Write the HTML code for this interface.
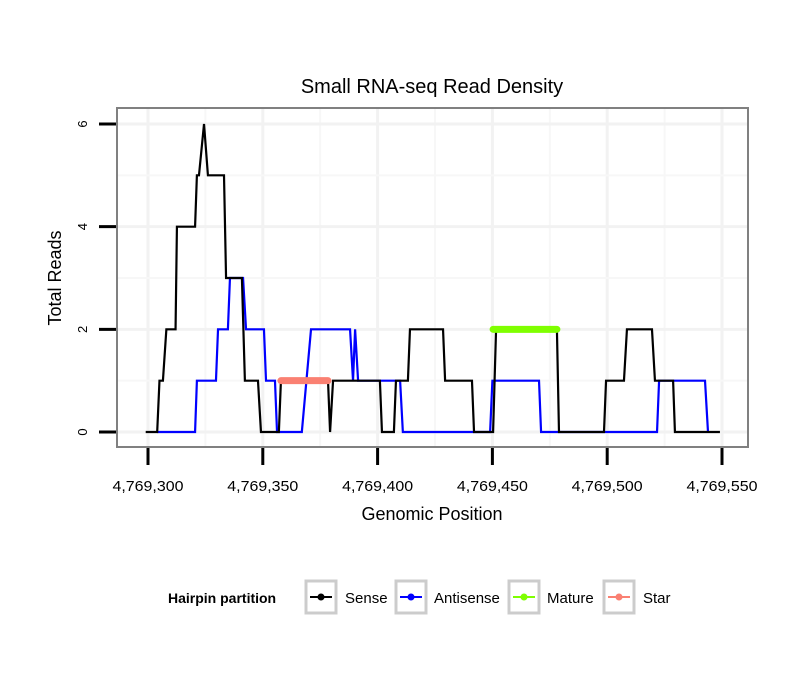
<!DOCTYPE html>
<html><head><meta charset="utf-8"><style>
body{margin:0;background:#fff}
svg{display:block;font-family:"Liberation Sans",sans-serif}
</style></head><body>
<svg id="c" width="810" height="690">
<rect width="810" height="690" fill="#fff"/>
<text x="432" y="93" font-size="20" text-anchor="middle">Small RNA-seq Read Density</text>
<g id="grid"></g>
<rect x="117" y="108" width="631" height="339" fill="none" stroke="#808080" stroke-width="2"/>
<g id="series"></g>
<g id="axes"></g>
<text x="432" y="520" font-size="18" text-anchor="middle">Genomic Position</text>
<text transform="translate(61,278) rotate(-90)" font-size="18" text-anchor="middle">Total Reads</text>
<g>
<text x="168" y="603" font-size="14" font-weight="bold">Hairpin partition</text>
<g><rect x="306" y="581" width="30" height="32" fill="#fff" stroke="#ccc" stroke-width="3"/><line x1="310" x2="332" y1="597" y2="597" stroke="#000" stroke-width="2"/><circle cx="321" cy="597" r="3.5" fill="#000"/><text x="345" y="603" font-size="15">Sense</text></g>
<g><rect x="396" y="581" width="30" height="32" fill="#fff" stroke="#ccc" stroke-width="3"/><line x1="400" x2="422" y1="597" y2="597" stroke="#0000ff" stroke-width="2"/><circle cx="411" cy="597" r="3.5" fill="#0000ff"/><text x="434" y="603" font-size="15">Antisense</text></g>
<g><rect x="509" y="581" width="30" height="32" fill="#fff" stroke="#ccc" stroke-width="3"/><line x1="513" x2="535" y1="597" y2="597" stroke="#7fff00" stroke-width="2"/><circle cx="524" cy="597" r="3.5" fill="#7fff00"/><text x="547" y="603" font-size="15">Mature</text></g>
<g><rect x="604" y="581" width="30" height="32" fill="#fff" stroke="#ccc" stroke-width="3"/><line x1="608" x2="630" y1="597" y2="597" stroke="#fa8072" stroke-width="2"/><circle cx="619" cy="597" r="3.5" fill="#fa8072"/><text x="643" y="603" font-size="15">Star</text></g>
</g>
</svg>
<script>
const xTicks=[4769300,4769350,4769400,4769450,4769500,4769550];
const xTickLabels=["4,769,300","4,769,350","4,769,400","4,769,450","4,769,500","4,769,550"];
const yTicks=[0,2,4,6];
const senseX=[-1,4,5,6.5,8,12,12.6,20.5,21.3,22.2,24.4,26.1,33.1,34,40.9,42.2,47.9,49.2,57,57.9,78.4,79.3,80.6,101,101.9,107.1,108,113.2,114.1,128.5,129.4,141.1,142,150.3,151.6,178.1,179,198.6,199.5,207.3,208.6,219.5,220.8,228.7,229.5,249.1];
const senseY=[0,0,1,1,2,2,4,4,5,5,6,5,5,3,3,1,1,0,0,1,1,0,1,1,0,0,1,1,2,2,1,1,0,0,2,2,0,0,1,1,2,2,1,1,0,0];
const antiX=[4,20.5,21.3,29.6,30.5,34.8,35.7,41.4,42.7,50.5,51.4,55.3,56.2,67,71,88,89.3,90.2,91.5,109.8,111,149,150,170.3,171.2,221.7,222.6,242.6,243.9];
const antiY=[0,0,1,1,2,2,3,3,2,2,1,1,0,0,2,2,1,2,1,1,0,0,1,1,0,0,1,1,0];
const matureX=[150.3,178.1], matureY=2;
const starX=[57.9,78.4], starY=1;
const base=4769300;
const xs=v=>148+(v-base)*574/250;
const xo=o=>xs(base+o);
const ys=v=>432-v*(432-124)/6;
const NS="http://www.w3.org/2000/svg";
function mk(p,t,a){const e=document.createElementNS(NS,t);for(const k in a)e.setAttribute(k,a[k]);p.appendChild(e);return e;}
const grid=document.getElementById('grid'),ax=document.getElementById('axes'),ser=document.getElementById('series');
[4769325,4769375,4769425,4769475,4769525].forEach(v=>{const l=mk(grid,'line',{x1:xs(v),x2:xs(v),y1:109,y2:446,stroke:'#f7f7f7','stroke-width':2});

});
xTicks.forEach(v=>{const l=mk(grid,'line',{x1:xs(v),x2:xs(v),y1:109,y2:446,stroke:'#f2f2f2','stroke-width':3});

});
[1,3,5].forEach(v=>{const l=mk(grid,'line',{x1:118,x2:747,y1:ys(v),y2:ys(v),stroke:'#f7f7f7','stroke-width':2});

});
yTicks.forEach(v=>{const l=mk(grid,'line',{x1:118,x2:747,y1:ys(v),y2:ys(v),stroke:'#f2f2f2','stroke-width':3});

});
xTicks.forEach((v,i)=>{const t=mk(ax,'line',{x1:xs(v),x2:xs(v),y1:448,y2:465,stroke:'#000','stroke-width':3});


const tx=mk(ax,'text',{x:xs(v)-35.5,y:491,'font-size':15,textLength:71,lengthAdjust:'spacingAndGlyphs'});tx.textContent=xTickLabels[i];

});
yTicks.forEach(v=>{const t=mk(ax,'line',{x1:99,x2:116,y1:ys(v),y2:ys(v),stroke:'#000','stroke-width':3});


const tx=mk(ax,'text',{transform:`translate(87,${ys(v)}) rotate(-90)`,'font-size':13,'text-anchor':'middle'});tx.textContent=v;

});
const pa=mk(ser,'polyline',{points:antiX.map((x,i)=>xo(x)+','+ys(antiY[i])).join(' '),fill:'none',stroke:'#0000ff','stroke-width':2.2});


const ps=mk(ser,'polyline',{points:senseX.map((x,i)=>xo(x)+','+ys(senseY[i])).join(' '),fill:'none',stroke:'#000','stroke-width':2.2});


const pm=mk(ser,'line',{x1:xo(matureX[0]),x2:xo(matureX[1]),y1:ys(matureY),y2:ys(matureY),stroke:'#7fff00','stroke-width':7,'stroke-linecap':'round'});


const pst=mk(ser,'line',{x1:xo(starX[0]),x2:xo(starX[1]),y1:ys(starY),y2:ys(starY),stroke:'#fa8072','stroke-width':7,'stroke-linecap':'round'});


</script>
</body></html>
